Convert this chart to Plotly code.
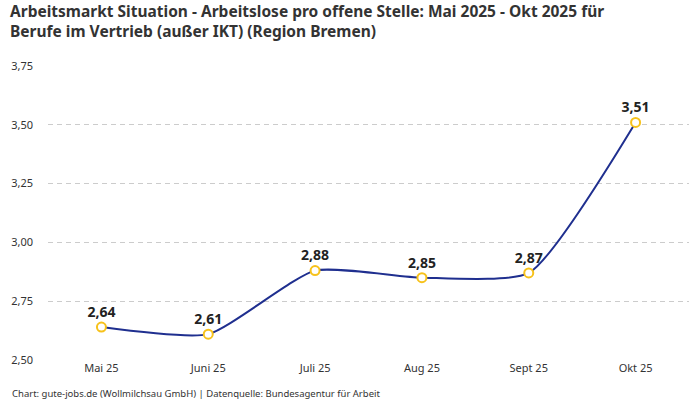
import plotly.graph_objects as go

months = ["Mai 25", "Juni 25", "Juli 25", "Aug 25", "Sept 25", "Okt 25"]
values = [2.64, 2.61, 2.88, 2.85, 2.87, 3.51]
labels = ["2,64", "2,61", "2,88", "2,85", "2,87", "3,51"]
y_ticks = [2.50, 2.75, 3.00, 3.25, 3.50, 3.75]

title = ("Arbeitsmarkt Situation - Arbeitslose pro offene Stelle: Mai 2025 - Okt 2025 für<br>"
         "Berufe im Vertrieb (außer IKT) (Region Bremen)")
source = "Chart: gute-jobs.de (Wollmilchsau GmbH) | Datenquelle: Bundesagentur für Arbeit"

fig = go.Figure()
fig.add_trace(go.Scatter(
    x=months, y=values,
    mode="lines+markers+text",
    line=dict(color="#1f2f8f", width=2, shape="spline", smoothing=0.55),
    marker=dict(size=9, color="white", line=dict(color="#f7c21b", width=2)),
    text=labels, textposition="top center",
    textfont=dict(family="Noto Sans", size=14, color="#222", weight="bold"),
    cliponaxis=False,
    hoverinfo="skip",
))

# pixels -> paper coords (plot area is y 66..360)
def py(px):
    return (360 - px) / 294

fig.update_layout(
    width=700, height=400,
    margin=dict(l=48, r=11, t=66, b=40, autoexpand=False),
    plot_bgcolor="white", paper_bgcolor="white",
    separators=",.",
    showlegend=False,
    font=dict(family="Noto Sans", color="#333"),
    xaxis=dict(
        type="category", range=[-0.5, 5.5], automargin=False,
        showgrid=False, showline=False, ticks="",
        tickfont=dict(size=11, color="#333"),
    ),
    yaxis=dict(
        range=[2.5, 3.75], tickvals=y_ticks, tickformat=".2f", automargin=False,
        showgrid=True, gridcolor="#cccccc", griddash="5px,4px",
        zeroline=False, showline=False, ticks="", ticklabelstandoff=14,
        tickfont=dict(size=11, color="#333"),
    ),
    annotations=[
        dict(text="<b>" + title + "</b>", xref="paper", yref="paper",
             x=-40 / 641, y=py(-2), xanchor="left", yanchor="top", align="left",
             showarrow=False, font=dict(size=15.5, color="#333")),
        dict(text=source, xref="paper", yref="paper",
             x=-38 / 641, y=py(393), xanchor="left", yanchor="middle",
             showarrow=False, font=dict(size=9.5, color="#333")),
    ],
)

fig.write_html("out.html", config={"displayModeBar": False},
               post_script="document.body.style.margin='0';")
